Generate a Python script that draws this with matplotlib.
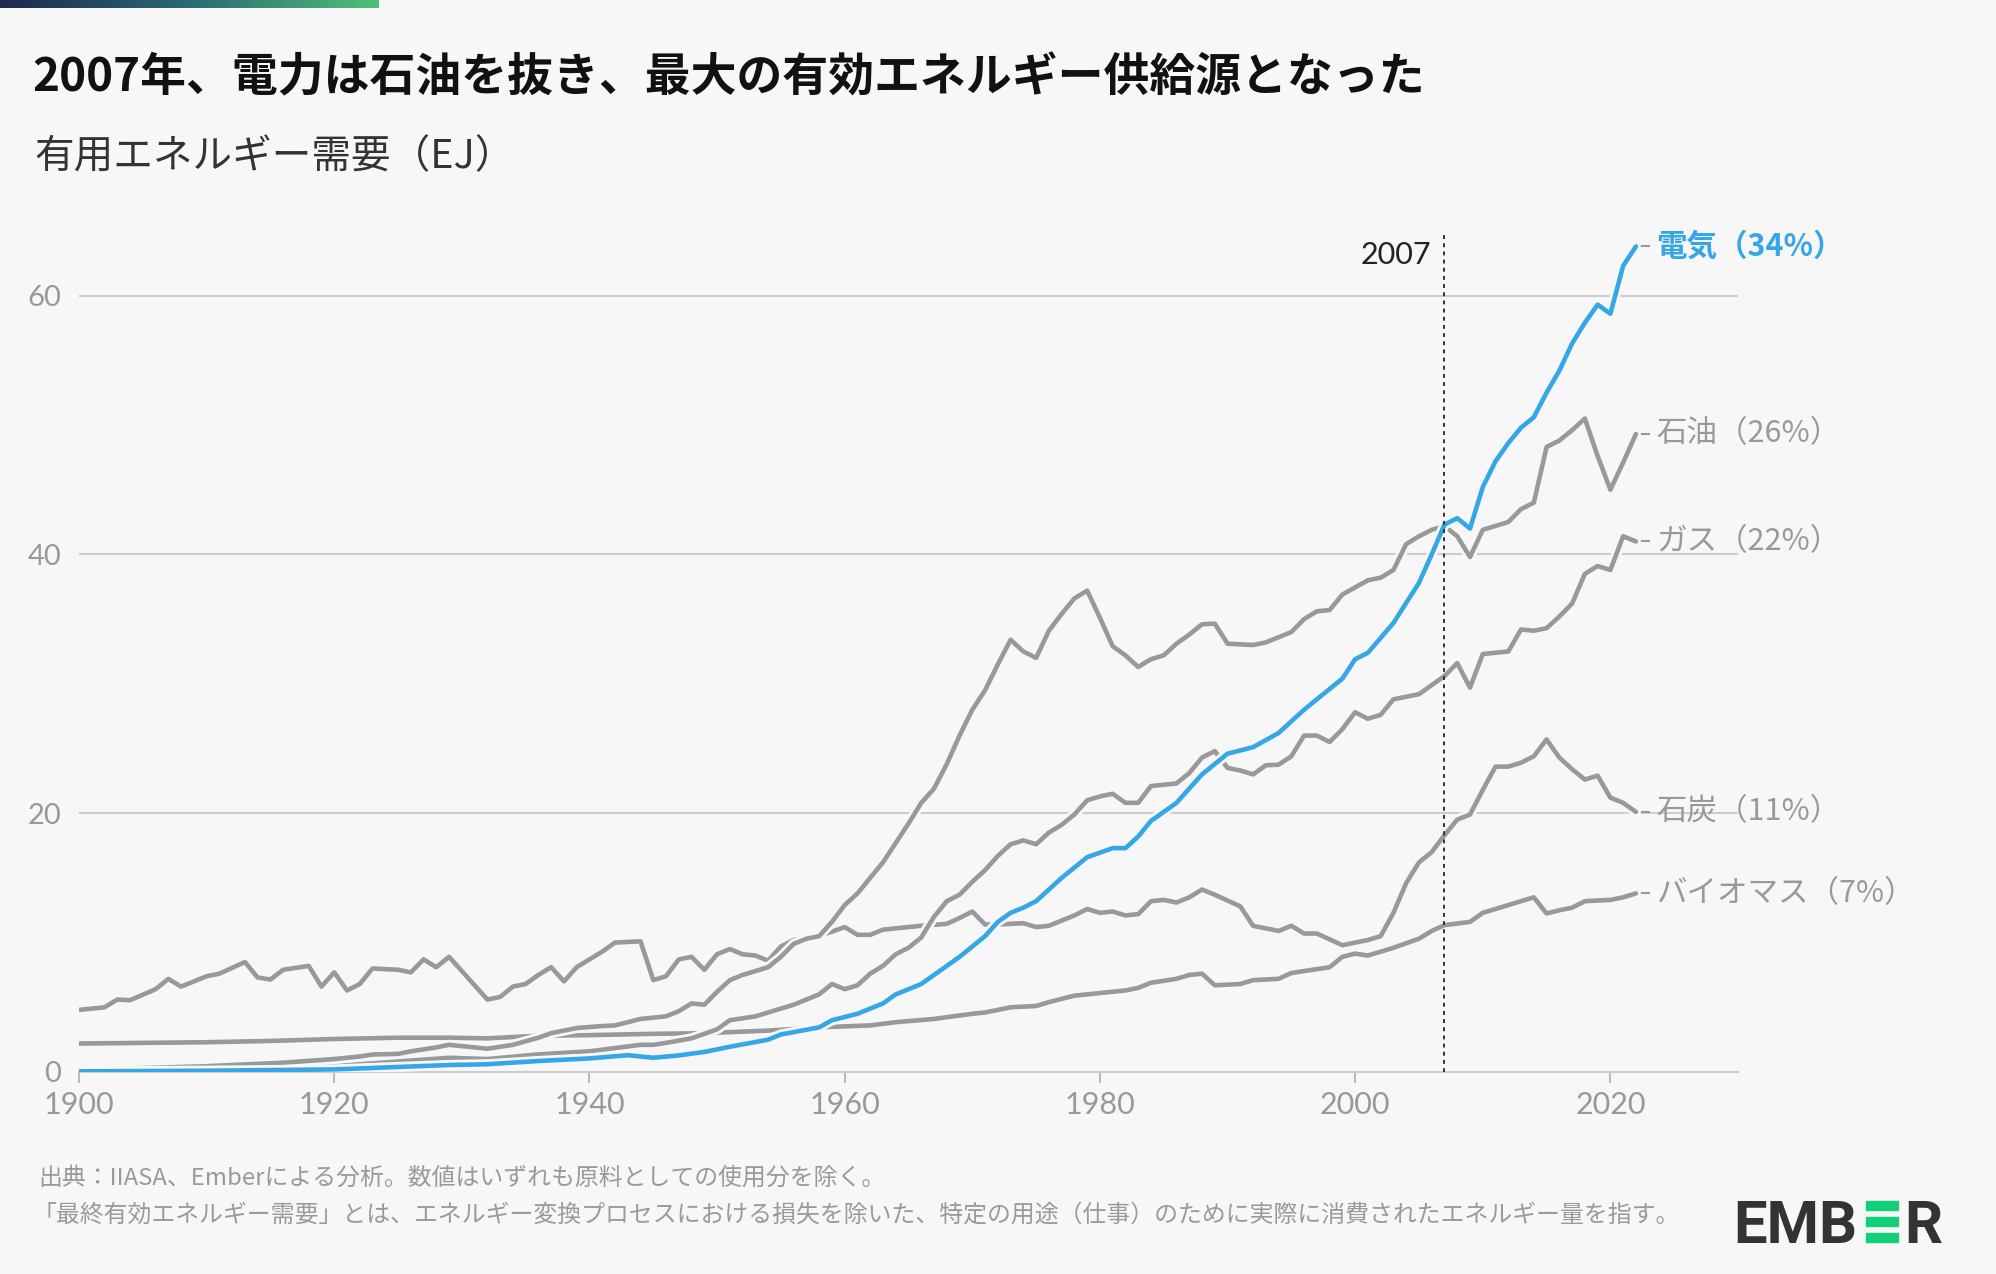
import matplotlib
matplotlib.use('Agg')
import matplotlib.pyplot as plt
import matplotlib.patheffects as pe
from matplotlib.patches import Rectangle
import numpy as np

plt.rcParams['font.family'] = ['Noto Sans CJK JP', 'DejaVu Sans']

# --- data (EJ) ---
elec_years = [1900, 1910, 1920, 1929, 1932, 1936, 1940, 1943, 1945, 1947, 1949, 1951, 1954, 1955,
              1958, 1959, 1961, 1963, 1964, 1966, 1967, 1969, 1970, 1971, 1972, 1973, 1974, 1975,
              1976, 1977, 1979, 1981, 1982, 1983, 1984, 1986, 1988, 1990, 1992, 1994, 1996, 1999,
              2000, 2001, 2003, 2005, 2006, 2007, 2008, 2009, 2010, 2011, 2012, 2013, 2014, 2015,
              2016, 2017, 2018, 2019, 2020, 2021, 2022]
elec_vals = [0.05, 0.1, 0.2, 0.54, 0.6, 0.85, 1.05, 1.3, 1.1, 1.28, 1.55, 1.95, 2.5, 2.9,
             3.45, 4.0, 4.5, 5.3, 6.0, 6.8, 7.5, 8.9, 9.7, 10.5, 11.6, 12.3, 12.7, 13.2,
             14.1, 15.0, 16.6, 17.3, 17.3, 18.2, 19.4, 20.8, 23.0, 24.6, 25.1, 26.2, 28.0, 30.4,
             31.9, 32.4, 34.7, 37.8, 40.0, 42.3, 42.8, 42.0, 45.2, 47.2, 48.6, 49.8, 50.6, 52.5,
             54.2, 56.3, 57.9, 59.3, 58.6, 62.3, 63.8]

oil_years = [1900, 1905, 1910, 1916, 1920, 1922, 1923, 1925, 1926, 1928, 1929, 1932, 1934, 1936,
             1937, 1939, 1941, 1942, 1944, 1946, 1947, 1948, 1949, 1950, 1951, 1952, 1953, 1954,
             1955, 1956, 1957, 1958, 1959, 1960, 1961, 1962, 1963, 1964, 1965, 1966, 1967, 1968,
             1969, 1970, 1971, 1972, 1973, 1974, 1975, 1976, 1977, 1978, 1979, 1980, 1981, 1982,
             1983, 1984, 1985, 1986, 1987, 1988, 1989, 1990, 1992, 1993, 1995, 1996, 1997, 1998,
             1999, 2001, 2002, 2003, 2004, 2005, 2006, 2007, 2008, 2009, 2010, 2011, 2012, 2013,
             2014, 2015, 2016, 2017, 2018, 2019, 2020, 2021, 2022]
oil_vals = [0.15, 0.3, 0.45, 0.72, 1.0, 1.2, 1.35, 1.4, 1.6, 1.9, 2.1, 1.8, 2.1, 2.65,
            3.0, 3.4, 3.55, 3.6, 4.1, 4.3, 4.7, 5.3, 5.2, 6.2, 7.1, 7.5, 7.8, 8.1,
            8.9, 9.9, 10.3, 10.5, 11.6, 12.9, 13.8, 15.0, 16.2, 17.7, 19.2, 20.8, 21.9, 23.8,
            26.0, 28.0, 29.5, 31.5, 33.4, 32.5, 32.0, 34.1, 35.4, 36.6, 37.2, 35.1, 32.9, 32.2,
            31.3, 31.9, 32.2, 33.1, 33.8, 34.6, 34.65, 33.1, 33.0, 33.2, 34.0, 35.0, 35.6, 35.7,
            36.9, 38.0, 38.2, 38.8, 40.8, 41.4, 41.9, 42.2, 41.4, 39.8, 41.9, 42.2, 42.5, 43.5,
            44.0, 48.3, 48.8, 49.6, 50.5, 47.6, 45.0, 47.1, 49.3]

gas_years = [1900, 1910, 1920, 1929, 1932, 1936, 1940, 1942, 1944, 1945, 1946, 1948, 1950, 1951,
             1953, 1954, 1956, 1958, 1959, 1960, 1961, 1962, 1963, 1964, 1965, 1966, 1967, 1968,
             1969, 1970, 1971, 1972, 1973, 1974, 1975, 1976, 1977, 1978, 1979, 1980, 1981, 1982,
             1983, 1984, 1985, 1986, 1987, 1988, 1989, 1990, 1991, 1992, 1993, 1994, 1995, 1996,
             1997, 1998, 1999, 2000, 2001, 2002, 2003, 2004, 2005, 2006, 2007, 2008, 2009, 2010,
             2011, 2012, 2013, 2014, 2015, 2016, 2017, 2018, 2019, 2020, 2021, 2022]
gas_vals = [0.05, 0.2, 0.46, 1.1, 1.0, 1.36, 1.6, 1.85, 2.1, 2.1, 2.25, 2.6, 3.3, 4.0,
            4.3, 4.6, 5.2, 6.0, 6.8, 6.4, 6.7, 7.6, 8.2, 9.1, 9.6, 10.4, 12.0, 13.2,
            13.7, 14.7, 15.6, 16.7, 17.6, 17.9, 17.6, 18.5, 19.1, 19.9, 21.0, 21.3, 21.5, 20.8,
            20.8, 22.1, 22.2, 22.3, 23.1, 24.3, 24.8, 23.5, 23.3, 23.0, 23.7, 23.75, 24.4, 26.0,
            26.0, 25.5, 26.5, 27.8, 27.3, 27.6, 28.8, 29.0, 29.2, 29.9, 30.6, 31.6, 29.7, 32.3,
            32.4, 32.5, 34.2, 34.1, 34.3, 35.2, 36.2, 38.5, 39.1, 38.8, 41.4, 41.0]

coal_years = [1900, 1902, 1903, 1904, 1906, 1907, 1908, 1910, 1911, 1913, 1914, 1915, 1916, 1918,
              1919, 1920, 1921, 1922, 1923, 1925, 1926, 1927, 1928, 1929, 1932, 1933, 1934, 1935,
              1936, 1937, 1938, 1939, 1941, 1942, 1944, 1945, 1946, 1947, 1948, 1949, 1950, 1951,
              1952, 1953, 1954, 1955, 1956, 1958, 1960, 1961, 1962, 1963, 1964, 1966, 1968, 1969,
              1970, 1971, 1972, 1974, 1975, 1976, 1978, 1979, 1980, 1981, 1982, 1983, 1984, 1985,
              1986, 1987, 1988, 1989, 1991, 1992, 1994, 1995, 1996, 1997, 1999, 2001, 2002, 2003,
              2004, 2005, 2006, 2007, 2008, 2009, 2010, 2011, 2012, 2013, 2014, 2015, 2016, 2017,
              2018, 2019, 2020, 2021, 2022]
coal_vals = [4.8, 5.0, 5.6, 5.55, 6.4, 7.2, 6.6, 7.4, 7.6, 8.5, 7.3, 7.15, 7.9, 8.2,
             6.6, 7.7, 6.3, 6.8, 8.0, 7.9, 7.7, 8.7, 8.1, 8.9, 5.6, 5.8, 6.6, 6.8,
             7.5, 8.1, 7.0, 8.1, 9.3, 10.0, 10.1, 7.1, 7.4, 8.7, 8.9, 7.9, 9.1, 9.5,
             9.1, 9.0, 8.6, 9.7, 10.2, 10.5, 11.2, 10.6, 10.6, 11.0, 11.1, 11.3, 11.45, 11.9,
             12.4, 11.4, 11.4, 11.5, 11.2, 11.3, 12.1, 12.6, 12.3, 12.4, 12.1, 12.2, 13.2, 13.3,
             13.1, 13.5, 14.1, 13.7, 12.8, 11.3, 10.9, 11.3, 10.7, 10.7, 9.8, 10.2, 10.5, 12.3,
             14.6, 16.2, 17.0, 18.3, 19.5, 19.9, 21.8, 23.6, 23.6, 23.9, 24.4, 25.7, 24.3, 23.4,
             22.6, 22.9, 21.2, 20.8, 20.1]

bio_years = [1900, 1910, 1915, 1920, 1925, 1929, 1932, 1936, 1940, 1945, 1949, 1954, 1958, 1962,
             1964, 1967, 1970, 1971, 1973, 1975, 1976, 1978, 1980, 1982, 1983, 1984, 1986, 1987,
             1988, 1989, 1991, 1992, 1994, 1995, 1998, 1999, 2000, 2001, 2003, 2005, 2006, 2007,
             2009, 2010, 2012, 2014, 2015, 2016, 2017, 2018, 2020, 2021, 2022]
bio_vals = [2.2, 2.3, 2.4, 2.55, 2.65, 2.65, 2.6, 2.8, 2.85, 2.95, 3.0, 3.2, 3.45, 3.6,
            3.85, 4.1, 4.5, 4.6, 5.0, 5.1, 5.4, 5.9, 6.1, 6.3, 6.5, 6.9, 7.2, 7.5,
            7.6, 6.7, 6.8, 7.1, 7.2, 7.65, 8.1, 8.9, 9.15, 9.0, 9.6, 10.3, 10.9, 11.35,
            11.6, 12.3, 12.9, 13.5, 12.25, 12.5, 12.7, 13.2, 13.3, 13.5, 13.8]

labels = ['電気（34%）', '石油（26%）', 'ガス（22%）', '石炭（11%）', 'バイオマス（7%）']

BG = '#f7f7f7'
GREY = '#999999'
BLUE = '#36a7e6'
W, H = 1996, 1274

def fx(px):
    return px / W

def fy(py):
    return 1 - py / H

fig = plt.figure(figsize=(W / 100, H / 100), dpi=100, facecolor=BG)

# gradient bar at the top
bar_ax = fig.add_axes([0, fy(8), fx(379), 8 / H])
grad = np.linspace(0, 1, 256).reshape(1, -1)
cmap = matplotlib.colors.LinearSegmentedColormap.from_list('bar', ['#1d2850', '#2a6a72', '#4fbf78'])
bar_ax.imshow(grad, aspect='auto', cmap=cmap)
bar_ax.axis('off')

# title / subtitle
fig.text(fx(32), fy(78), '2007年、電力は石油を抜き、最大の有効エネルギー供給源となった',
         fontsize=33, fontweight='bold', color='#111111', va='center', ha='left')
fig.text(fx(34), fy(157), '有用エネルギー需要（EJ）', fontsize=28.5, color='#333333',
         va='center', ha='left')

# main axes
ymax = 66
ax = fig.add_axes([fx(79), fy(1072), fx(1738) - fx(79), ymax * 12.94 / H])
ax.set_facecolor(BG)
ax.set_xlim(1900, 2030)
ax.set_ylim(0, ymax)
for s in ['top', 'right', 'left']:
    ax.spines[s].set_visible(False)
ax.spines['bottom'].set_color('#cccccc')
ax.spines['bottom'].set_linewidth(1.5)
ax.set_yticks([0, 20, 40, 60])
ax.set_xticks([1900, 1920, 1940, 1960, 1980, 2000, 2020])
ax.tick_params(axis='y', length=0, pad=13, labelsize=21, labelcolor=GREY)
ax.tick_params(axis='x', length=8, width=1.5, color='#bbbbbb', pad=6, labelsize=22, labelcolor=GREY)
for lab in ax.get_xticklabels() + ax.get_yticklabels():
    lab.set_family(['Lato', 'DejaVu Sans'])
for yv in [20, 40, 60]:
    ax.axhline(yv, color='#cccccc', lw=1.5, zorder=1)

lw = 3.3
halo = [pe.Stroke(linewidth=lw + 4, foreground=BG), pe.Normal()]
series = [(bio_years, bio_vals, GREY), (coal_years, coal_vals, GREY), (gas_years, gas_vals, GREY),
          (oil_years, oil_vals, GREY), (elec_years, elec_vals, BLUE)]
for i, (xs, ys, c) in enumerate(series):
    ax.plot(xs, ys, color=c, lw=lw, solid_joinstyle='round', solid_capstyle='round',
            path_effects=halo, zorder=3 + i)

# 2007 marker
ax.plot([2007, 2007], [0, 64.8], color='#333333', lw=1.4, ls=(0, (2, 2.2)), zorder=8, clip_on=False)
ax.text(2006, 63.1, '2007', fontsize=22, color='#222222', ha='right', va='center',
        family=['Lato', 'DejaVu Sans'])

# end labels
ends = [elec_vals[-1], oil_vals[-1], gas_vals[-1], coal_vals[-1], bio_vals[-1]]
for k, (lab, yv) in enumerate(zip(labels, ends)):
    ax.plot([2022.2, 2023.0], [yv, yv], color=GREY, lw=1.5, clip_on=False)
    ax.text(2023.6, yv, lab, fontsize=22, ha='left', va='center',
            color=BLUE if k == 0 else GREY, fontweight='bold' if k == 0 else 'normal',
            clip_on=False)

# footer
fig.text(fx(38), fy(1178), '出典：IIASA、Emberによる分析。数値はいずれも原料としての使用分を除く。',
         fontsize=17.2, color='#9a9a9a', va='center', ha='left')
fig.text(fx(32), fy(1215), '「最終有効エネルギー需要」とは、エネルギー変換プロセスにおける損失を除いた、'
         '特定の用途（仕事）のために実際に消費されたエネルギー量を指す。',
         fontsize=17.2, color='#9a9a9a', va='center', ha='left')

# EMBER logo
fig.text(fx(1733), fy(1243), 'EMB', fontsize=43, fontweight='bold', color='#333333',
         family=['Roboto', 'DejaVu Sans'], ha='left', va='baseline')
fig.text(fx(1942), fy(1243), 'R', fontsize=43, fontweight='bold', color='#333333',
         family=['Roboto', 'DejaVu Sans'], ha='right', va='baseline')
for top in [1201, 1217, 1233]:
    fig.patches.append(Rectangle((fx(1866), fy(top + 9)), fx(32), 9 / H,
                                 transform=fig.transFigure, color='#14d07a', figure=fig))

fig.savefig('out.png', dpi=100, facecolor=BG)
